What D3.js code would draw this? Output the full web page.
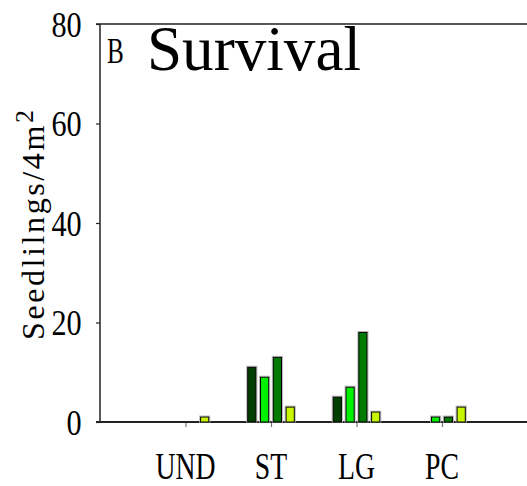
<!DOCTYPE html>
<html><head><meta charset="utf-8">
<script src="https://cdn.jsdelivr.net/npm/d3@7"></script>
<style>body{margin:0;background:#fff}svg{display:block;font-family:"Liberation Serif",serif}svg text{font-family:"Liberation Serif",serif !important}</style>
</head><body><svg id="c" width="527" height="486"></svg>
<script>
const categories = ["UND","ST","LG","PC"];
const s1 = [0,11,5,0];
const s2 = [0,9,7,1];
const s3 = [0,13,18,1];
const s4 = [1,3,2,3];
const series = [s1,s2,s3,s4];
const colors = ["#003f00","#00f000","#007a00","#c8f500"];
const yTicks = [0,20,40,60,80];

const svg = d3.select("#c");
const L = 100, R = 527.5, T = 24, B = 422;
const x = d3.scaleLinear().domain([0,5]).range([L,R]);
const y = d3.scaleLinear().domain([0,80]).range([B,T]);
const step = 12.8, bw = 8.2;

svg.append("line").attr("x1",96).attr("x2",527).attr("y1",T).attr("y2",T).attr("stroke","#222").attr("stroke-width",1.5);

const ya = svg.append("g").attr("transform",`translate(${L},0)`)
  .call(d3.axisLeft(y).tickValues(yTicks).tickSize(4).tickPadding(0).tickFormat(d3.format("d")));
ya.attr("font-family",null);
ya.select(".domain").attr("stroke","#222").attr("stroke-width",1.5).attr("d",`M0,${T}V${B}`);
ya.selectAll(".tick line").attr("stroke","#222").attr("stroke-width",1.2);
ya.selectAll(".tick text").attr("font-size",36).attr("fill","#000").attr("text-anchor","end")
  .attr("dy","0.34em")
  .attr("transform","translate(-15,0) scale(0.84,1)");

const xa = svg.append("g").attr("transform",`translate(0,${B})`)
  .call(d3.axisBottom(x).tickValues([1,2,3,4]).tickSize(5).tickFormat(""));
xa.select(".domain").remove();
xa.selectAll(".tick line").attr("stroke","#777").attr("stroke-width",1.2);
svg.append("line").attr("x1",96).attr("x2",527).attr("y1",B).attr("y2",B).attr("stroke","#222").attr("stroke-width",2);

svg.append("g").selectAll("text").data(categories).join("text")
  .attr("transform",(d,i)=>`translate(${x(i+1)},479) scale(0.73,1)`)
  .attr("text-anchor","middle").attr("font-size",38).attr("fill","#000").text(d=>d);

const g = svg.append("g");
series.forEach((vals,si)=>{
  vals.forEach((v,ci)=>{
    if (v<=0) return;
    const cx = x(ci+1) + (si-1.5)*step;
    g.append("rect").attr("x",cx-bw/2-1).attr("y",y(v)-1).attr("width",bw+2).attr("height",B-y(v)+1)
      .attr("fill","none").attr("stroke","#bbb").attr("stroke-width",1);
    g.append("rect").attr("x",cx-bw/2).attr("y",y(v)).attr("width",bw).attr("height",B-y(v))
      .attr("fill",colors[si]).attr("stroke","#000").attr("stroke-width",1);
  });
});

svg.append("text").attr("transform","translate(107,63) scale(0.72,1)").attr("font-size",35).attr("fill","#000").text("B");
svg.append("text").attr("x",147).attr("y",70).attr("font-size",64).attr("fill","#000")
  .attr("textLength",214).attr("lengthAdjust","spacingAndGlyphs").text("Survival");

const yl = svg.append("text").attr("transform","translate(44,340) rotate(-90)")
  .attr("font-size",32).attr("fill","#000").attr("letter-spacing",2.6);
yl.append("tspan").text("Seedlilngs/4m");
yl.append("tspan").attr("dy",-11).attr("font-size",26).text("2");
</script></body></html>
